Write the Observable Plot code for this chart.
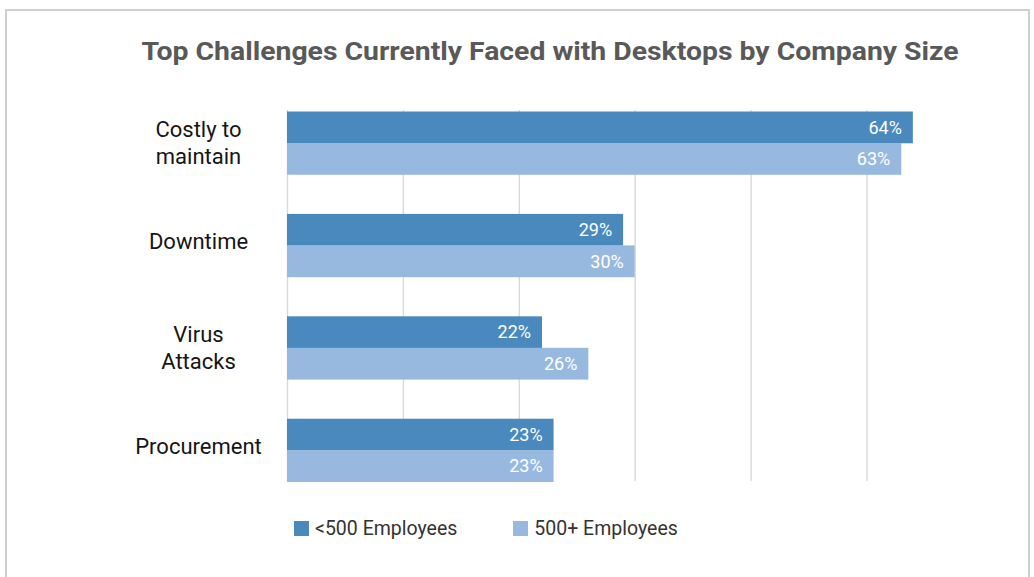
<!DOCTYPE html>
<html>
<head>
<meta charset="utf-8">
<script src="https://cdn.jsdelivr.net/npm/d3@7"></script>
<script src="https://cdn.jsdelivr.net/npm/@observablehq/plot@0.6"></script>
<style>
  html, body { margin: 0; padding: 0; background: #fff; }
  body { width: 1034px; height: 577px; overflow: hidden; position: relative; font-family: Roboto, "Noto Sans", sans-serif; }
  #frame { position: absolute; left: 5px; top: 9px; width: 1021px; height: 640px; border: 2px solid #cfcfcf; }
  #title { position: absolute; left: 0; width: 1100px; top: 35px; text-align: center; font-size: 26.5px; font-weight: 700; color: #595959; transform: scaleX(1.07); transform-origin: 550px 0; }
  #chart { position: absolute; left: 0; top: 0; }
  #legend { position: absolute; top: 517px; left: 294px; display: flex; align-items: center; font-size: 19.5px; color: #333; }
  .sw { width: 15px; height: 15px; display: inline-block; margin-right: 6px; }
  .item { display: flex; align-items: center; margin-right: 56px; }
</style>
</head>
<body>
<div id="frame"></div>
<div id="chart"></div>
<div id="title">Top Challenges Currently Faced with Desktops by Company Size</div>
<div id="legend"></div>
<script>
// ---- data ----
const categories = ["Costly to\nmaintain", "Downtime", "Virus\nAttacks", "Procurement"];
const under500 = [64, 29, 22, 23];
const over500 = [63, 30, 26, 23];
const seriesNames = ["<500 Employees", "500+ Employees"];
const gridTicks = [0, 10, 20, 30, 40, 50];

const colors = ["#4a89bd", "#98b9df"];
const rows = categories.map((c, i) => ({cat: c, a: under500[i], b: over500[i]}));
const twoLine = categories.filter(c => c.includes("\n"));
const oneLine = categories.filter(c => !c.includes("\n"));

// layout
const left = 287, pxPct = 11.59;
const half = 31.5;
const labelStyle = {frameAnchor: "left", dx: -89, textAnchor: "middle", fontSize: 22, fill: "#151515", lineHeight: 1.23};

const chart = Plot.plot({
  width: 1034,
  height: 500,
  marginTop: 110,
  marginBottom: 19,
  marginLeft: left,
  marginRight: 40,
  style: {background: "transparent", fontFamily: "Roboto, 'Noto Sans', sans-serif"},
  x: {
    // axis break: the 50–60% stretch is skipped, as in the source chart
    transform: v => (v > 50 ? v - 10 : v),
    domain: [0, 60],
    range: [left, left + 60 * pxPct],
    axis: null
  },
  y: {domain: categories, range: [111.5, 482], paddingInner: 0.382, paddingOuter: 0, axis: null, round: false},
  marks: [
    Plot.ruleX(gridTicks, {x: d => d, stroke: "#d9d9d9", strokeWidth: 1.4, strokeOpacity: 1}),
    Plot.barX(rows, {x1: 0, x2: "a", y: "cat", fill: colors[0], insetBottom: half}),
    Plot.barX(rows, {x1: 0, x2: "b", y: "cat", fill: colors[1], insetTop: half}),
    Plot.text(rows, {x: "a", y: "cat", text: d => d.a + "%", dy: -half / 2, dx: -11.5, textAnchor: "end", fill: "white", fontSize: 18, fontWeight: 400}),
    Plot.text(rows, {x: "b", y: "cat", text: d => d.b + "%", dy: half / 2, dx: -11.5, textAnchor: "end", fill: "white", fontSize: 18, fontWeight: 400}),
    Plot.text(oneLine, {y: d => d, text: d => d, dy: -6, ...labelStyle}),
    Plot.text(twoLine, {y: d => d, text: d => d, dy: -2, ...labelStyle})
  ]
});
document.getElementById("chart").appendChild(chart);

const legend = document.getElementById("legend");
seriesNames.forEach((n, i) => {
  const it = document.createElement("div");
  it.className = "item";
  const sw = document.createElement("span");
  sw.className = "sw";
  sw.style.background = colors[i];
  it.appendChild(sw);
  it.appendChild(document.createTextNode(n));
  legend.appendChild(it);
});
</script>
</body>
</html>
